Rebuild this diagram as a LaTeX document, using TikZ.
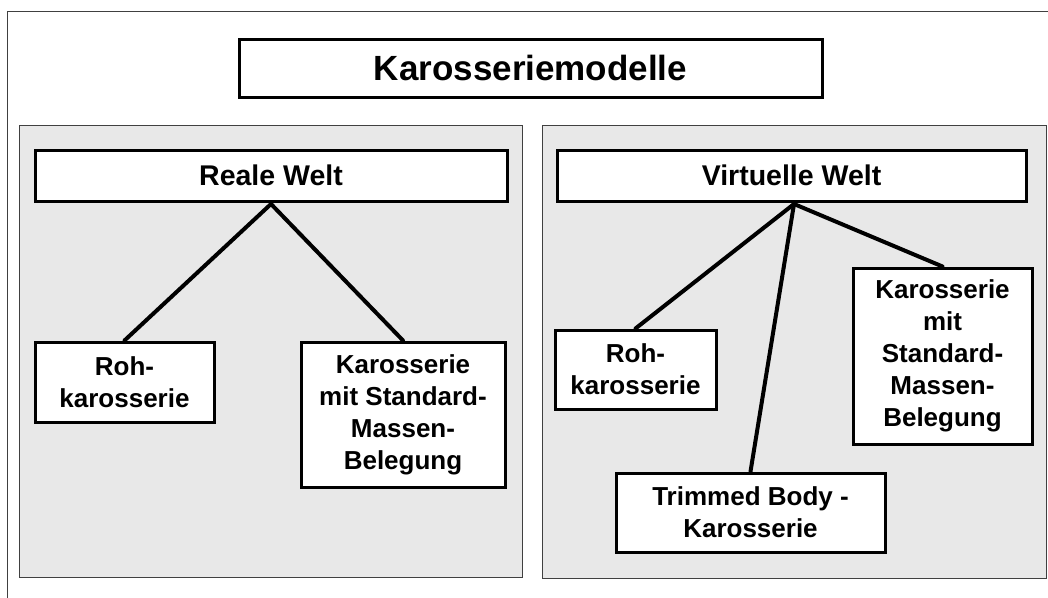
\documentclass[tikz,border=0pt]{standalone}
\usepackage{fontspec}
\setmainfont{Liberation Sans}
\definecolor{panelfill}{HTML}{E8E8E8}
\definecolor{panelline}{HTML}{404040}
\begin{document}
\begin{tikzpicture}[x=1pt,y=-1pt,
  box/.style={draw=black,line width=3pt,fill=white,rectangle,inner sep=0pt,align=center,
    font=\fontsize{26}{32}\selectfont\bfseries},
  headbox/.style={box,font=\fontsize{28.5}{34}\selectfont\bfseries},
  titlebox/.style={box,font=\fontsize{35}{42}\selectfont\bfseries},
  panel/.style={draw=panelline,line width=1pt,fill=panelfill},
  conn/.style={draw=black,line width=4pt,line cap=round}]
\useasboundingbox (0,0) rectangle (1048,597);
\fill[white] (0,0) rectangle (1048,597);
% outer frame (clipped at right and bottom)
\draw[draw=panelline,line width=1pt] (7,11) rectangle (1070,620);
% panels
\draw[panel] (19,125) rectangle (522,577);
\draw[panel] (542,125) rectangle (1046,578);
% title
\node[titlebox,minimum width=583pt,minimum height=58pt] (title) at (530.5,68) {Karosseriemodelle};
% left panel
\node[headbox,minimum width=472pt,minimum height=51pt] (real) at (271,175.5) {Reale Welt};
\node[box,minimum width=179pt,minimum height=80pt] (rohL) at (124.5,382) {Roh-\\karosserie};
\node[box,minimum width=204pt,minimum height=145pt] (karL) at (403,414.5) {Karosserie\\mit Standard-\\Massen-\\Belegung};
% right panel
\node[headbox,minimum width=469pt,minimum height=51pt] (virt) at (791.5,175.5) {Virtuelle Welt};
\node[box,minimum width=161pt,minimum height=79pt] (rohR) at (635.5,369.5) {Roh-\\karosserie};
\node[box,minimum width=179pt,minimum height=176pt] (karR) at (942.5,356) {Karosserie\\mit\\Standard-\\Massen-\\Belegung};
\node[box,minimum width=269pt,minimum height=79pt] (trim) at (750.5,512.5) {Trimmed Body -\\Karosserie};
% connectors
\coordinate (apexL) at ([yshift=-1.5pt]real.south);
\coordinate (apexR) at ([xshift=2.5pt,yshift=-1.5pt]virt.south);
\begin{scope}[on background layer/.style={}]
\draw[conn] (apexL) -- (rohL.north);
\draw[conn] (apexL) -- (karL.north);
\draw[conn] (apexR) -- (rohR.north);
\draw[conn] (apexR) -- (trim.north);
\draw[conn] (apexR) -- (karR.north);
\end{scope}
\end{tikzpicture}
\end{document}
